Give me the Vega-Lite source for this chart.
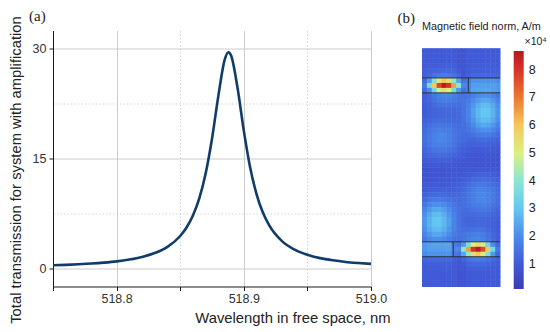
{
  "$schema": "https://vega.github.io/schema/vega-lite/v6.json",
  "padding": {"left": 8, "top": 8.5, "right": 5, "bottom": 5},
  "bounds": "flush",
  "spacing": 51,
  "datasets": {
    "spectrum": [
      {"w": 518.75, "t": 0.39}, {"w": 518.76, "t": 0.45}, {"w": 518.77, "t": 0.53}, {"w": 518.78, "t": 0.63},
      {"w": 518.79, "t": 0.76}, {"w": 518.80, "t": 0.93}, {"w": 518.81, "t": 1.18}, {"w": 518.82, "t": 1.53},
      {"w": 518.83, "t": 2.06}, {"w": 518.84, "t": 2.91}, {"w": 518.85, "t": 4.39}, {"w": 518.855, "t": 5.55},
      {"w": 518.86, "t": 7.18}, {"w": 518.865, "t": 9.52}, {"w": 518.87, "t": 12.91}, {"w": 518.875, "t": 17.65},
      {"w": 518.88, "t": 23.5}, {"w": 518.885, "t": 28.44}, {"w": 518.888, "t": 29.45}, {"w": 518.89, "t": 28.99},
      {"w": 518.895, "t": 24.67}, {"w": 518.90, "t": 18.76}, {"w": 518.905, "t": 13.74}, {"w": 518.91, "t": 10.11},
      {"w": 518.915, "t": 7.58}, {"w": 518.92, "t": 5.83}, {"w": 518.93, "t": 3.69}, {"w": 518.94, "t": 2.52},
      {"w": 518.95, "t": 1.82}, {"w": 518.96, "t": 1.37}, {"w": 518.97, "t": 1.07}, {"w": 518.98, "t": 0.85},
      {"w": 518.99, "t": 0.70}, {"w": 519.00, "t": 0.58}
    ],
    "edges": [
      {"x1": 0, "x2": 16, "y1": 6, "y2": 6},
      {"x1": 0, "x2": 16, "y1": 9, "y2": 9},
      {"x1": 9.5, "x2": 9.5, "y1": 6, "y2": 9},
      {"x1": 0, "x2": 16, "y1": 39, "y2": 39},
      {"x1": 0, "x2": 16, "y1": 42, "y2": 42},
      {"x1": 6.4, "x2": 6.4, "y1": 39, "y2": 42}
    ],
    "field": [
{"c":0,"r":0,"v":1},{"c":1,"r":0,"v":1},{"c":2,"r":0,"v":1},{"c":3,"r":0,"v":1},{"c":4,"r":0,"v":1},{"c":5,"r":0,"v":1},{"c":6,"r":0,"v":1},{"c":7,"r":0,"v":0.85},{"c":8,"r":0,"v":0.85},{"c":9,"r":0,"v":1},{"c":10,"r":0,"v":1},{"c":11,"r":0,"v":1},{"c":12,"r":0,"v":1},{"c":13,"r":0,"v":1},{"c":14,"r":0,"v":1},{"c":15,"r":0,"v":1},
{"c":0,"r":1,"v":1},{"c":1,"r":1,"v":1},{"c":2,"r":1,"v":1},{"c":3,"r":1,"v":1},{"c":4,"r":1,"v":1},{"c":5,"r":1,"v":1},{"c":6,"r":1,"v":1},{"c":7,"r":1,"v":0.85},{"c":8,"r":1,"v":0.85},{"c":9,"r":1,"v":1},{"c":10,"r":1,"v":1},{"c":11,"r":1,"v":1},{"c":12,"r":1,"v":1},{"c":13,"r":1,"v":1},{"c":14,"r":1,"v":1},{"c":15,"r":1,"v":1},
{"c":0,"r":2,"v":1},{"c":1,"r":2,"v":1},{"c":2,"r":2,"v":1},{"c":3,"r":2,"v":1},{"c":4,"r":2,"v":1},{"c":5,"r":2,"v":1},{"c":6,"r":2,"v":1},{"c":7,"r":2,"v":0.85},{"c":8,"r":2,"v":0.85},{"c":9,"r":2,"v":1},{"c":10,"r":2,"v":1},{"c":11,"r":2,"v":1},{"c":12,"r":2,"v":1},{"c":13,"r":2,"v":1},{"c":14,"r":2,"v":1},{"c":15,"r":2,"v":1},
{"c":0,"r":3,"v":1},{"c":1,"r":3,"v":1.05},{"c":2,"r":3,"v":1.05},{"c":3,"r":3,"v":1.1},{"c":4,"r":3,"v":1.1},{"c":5,"r":3,"v":1.1},{"c":6,"r":3,"v":1.05},{"c":7,"r":3,"v":0.9},{"c":8,"r":3,"v":0.85},{"c":9,"r":3,"v":1},{"c":10,"r":3,"v":1.05},{"c":11,"r":3,"v":1.05},{"c":12,"r":3,"v":1.05},{"c":13,"r":3,"v":1.05},{"c":14,"r":3,"v":1.05},{"c":15,"r":3,"v":1},
{"c":0,"r":4,"v":1.05},{"c":1,"r":4,"v":1.15},{"c":2,"r":4,"v":1.2},{"c":3,"r":4,"v":1.25},{"c":4,"r":4,"v":1.25},{"c":5,"r":4,"v":1.25},{"c":6,"r":4,"v":1.2},{"c":7,"r":4,"v":1},{"c":8,"r":4,"v":0.9},{"c":9,"r":4,"v":1},{"c":10,"r":4,"v":1.1},{"c":11,"r":4,"v":1.1},{"c":12,"r":4,"v":1.1},{"c":13,"r":4,"v":1.1},{"c":14,"r":4,"v":1.1},{"c":15,"r":4,"v":1.05},
{"c":0,"r":5,"v":1.1},{"c":1,"r":5,"v":1.25},{"c":2,"r":5,"v":1.45},{"c":3,"r":5,"v":1.6},{"c":4,"r":5,"v":1.7},{"c":5,"r":5,"v":1.6},{"c":6,"r":5,"v":1.45},{"c":7,"r":5,"v":1.2},{"c":8,"r":5,"v":0.95},{"c":9,"r":5,"v":1.1},{"c":10,"r":5,"v":1.3},{"c":11,"r":5,"v":1.3},{"c":12,"r":5,"v":1.3},{"c":13,"r":5,"v":1.3},{"c":14,"r":5,"v":1.3},{"c":15,"r":5,"v":1.2},
{"c":0,"r":6,"v":1.3},{"c":1,"r":6,"v":2.2},{"c":2,"r":6,"v":3.8},{"c":3,"r":6,"v":5.2},{"c":4,"r":6,"v":6},{"c":5,"r":6,"v":5.5},{"c":6,"r":6,"v":4},{"c":7,"r":6,"v":2.4},{"c":8,"r":6,"v":1.5},{"c":9,"r":6,"v":1.6},{"c":10,"r":6,"v":2.1},{"c":11,"r":6,"v":2.1},{"c":12,"r":6,"v":2.1},{"c":13,"r":6,"v":2.1},{"c":14,"r":6,"v":2.1},{"c":15,"r":6,"v":2},
{"c":0,"r":7,"v":1.6},{"c":1,"r":7,"v":3.5},{"c":2,"r":7,"v":6},{"c":3,"r":7,"v":7.7},{"c":4,"r":7,"v":8.6},{"c":5,"r":7,"v":8},{"c":6,"r":7,"v":6.5},{"c":7,"r":7,"v":4},{"c":8,"r":7,"v":1.9},{"c":9,"r":7,"v":1.8},{"c":10,"r":7,"v":2.3},{"c":11,"r":7,"v":2.3},{"c":12,"r":7,"v":2.3},{"c":13,"r":7,"v":2.3},{"c":14,"r":7,"v":2.3},{"c":15,"r":7,"v":2.2},
{"c":0,"r":8,"v":1.3},{"c":1,"r":8,"v":2},{"c":2,"r":8,"v":3.4},{"c":3,"r":8,"v":4.8},{"c":4,"r":8,"v":5.5},{"c":5,"r":8,"v":5},{"c":6,"r":8,"v":3.6},{"c":7,"r":8,"v":2.2},{"c":8,"r":8,"v":1.5},{"c":9,"r":8,"v":1.7},{"c":10,"r":8,"v":2.4},{"c":11,"r":8,"v":2.4},{"c":12,"r":8,"v":2.4},{"c":13,"r":8,"v":2.4},{"c":14,"r":8,"v":2.3},{"c":15,"r":8,"v":2.2},
{"c":0,"r":9,"v":1.1},{"c":1,"r":9,"v":1.3},{"c":2,"r":9,"v":1.54},{"c":3,"r":9,"v":1.76},{"c":4,"r":9,"v":1.87},{"c":5,"r":9,"v":1.84},{"c":6,"r":9,"v":1.69},{"c":7,"r":9,"v":1.53},{"c":8,"r":9,"v":1.46},{"c":9,"r":9,"v":1.52},{"c":10,"r":9,"v":1.71},{"c":11,"r":9,"v":1.92},{"c":12,"r":9,"v":2.05},{"c":13,"r":9,"v":2.03},{"c":14,"r":9,"v":1.85},{"c":15,"r":9,"v":1.58},
{"c":0,"r":10,"v":1.08},{"c":1,"r":10,"v":1.26},{"c":2,"r":10,"v":1.47},{"c":3,"r":10,"v":1.66},{"c":4,"r":10,"v":1.75},{"c":5,"r":10,"v":1.73},{"c":6,"r":10,"v":1.62},{"c":7,"r":10,"v":1.51},{"c":8,"r":10,"v":1.52},{"c":9,"r":10,"v":1.68},{"c":10,"r":10,"v":1.97},{"c":11,"r":10,"v":2.27},{"c":12,"r":10,"v":2.45},{"c":13,"r":10,"v":2.43},{"c":14,"r":10,"v":2.19},{"c":15,"r":10,"v":1.83},
{"c":0,"r":11,"v":1.03},{"c":1,"r":11,"v":1.16},{"c":2,"r":11,"v":1.3},{"c":3,"r":11,"v":1.43},{"c":4,"r":11,"v":1.49},{"c":5,"r":11,"v":1.48},{"c":6,"r":11,"v":1.42},{"c":7,"r":11,"v":1.41},{"c":8,"r":11,"v":1.52},{"c":9,"r":11,"v":1.79},{"c":10,"r":11,"v":2.18},{"c":11,"r":11,"v":2.56},{"c":12,"r":11,"v":2.8},{"c":13,"r":11,"v":2.77},{"c":14,"r":11,"v":2.48},{"c":15,"r":11,"v":2.05},
{"c":0,"r":12,"v":1.01},{"c":1,"r":12,"v":1.1},{"c":2,"r":12,"v":1.19},{"c":3,"r":12,"v":1.26},{"c":4,"r":12,"v":1.29},{"c":5,"r":12,"v":1.28},{"c":6,"r":12,"v":1.27},{"c":7,"r":12,"v":1.32},{"c":8,"r":12,"v":1.5},{"c":9,"r":12,"v":1.84},{"c":10,"r":12,"v":2.3},{"c":11,"r":12,"v":2.74},{"c":12,"r":12,"v":3},{"c":13,"r":12,"v":2.97},{"c":14,"r":12,"v":2.65},{"c":15,"r":12,"v":2.17},
{"c":0,"r":13,"v":1.05},{"c":1,"r":13,"v":1.13},{"c":2,"r":13,"v":1.2},{"c":3,"r":13,"v":1.25},{"c":4,"r":13,"v":1.26},{"c":5,"r":13,"v":1.24},{"c":6,"r":13,"v":1.24},{"c":7,"r":13,"v":1.3},{"c":8,"r":13,"v":1.49},{"c":9,"r":13,"v":1.84},{"c":10,"r":13,"v":2.3},{"c":11,"r":13,"v":2.74},{"c":12,"r":13,"v":3},{"c":13,"r":13,"v":2.97},{"c":14,"r":13,"v":2.65},{"c":15,"r":13,"v":2.17},
{"c":0,"r":14,"v":1.13},{"c":1,"r":14,"v":1.24},{"c":2,"r":14,"v":1.33},{"c":3,"r":14,"v":1.38},{"c":4,"r":14,"v":1.38},{"c":5,"r":14,"v":1.34},{"c":6,"r":14,"v":1.3},{"c":7,"r":14,"v":1.33},{"c":8,"r":14,"v":1.48},{"c":9,"r":14,"v":1.78},{"c":10,"r":14,"v":2.18},{"c":11,"r":14,"v":2.57},{"c":12,"r":14,"v":2.81},{"c":13,"r":14,"v":2.77},{"c":14,"r":14,"v":2.48},{"c":15,"r":14,"v":2.05},
{"c":0,"r":15,"v":1.24},{"c":1,"r":15,"v":1.39},{"c":2,"r":15,"v":1.51},{"c":3,"r":15,"v":1.57},{"c":4,"r":15,"v":1.56},{"c":5,"r":15,"v":1.49},{"c":6,"r":15,"v":1.41},{"c":7,"r":15,"v":1.37},{"c":8,"r":15,"v":1.45},{"c":9,"r":15,"v":1.66},{"c":10,"r":15,"v":1.97},{"c":11,"r":15,"v":2.28},{"c":12,"r":15,"v":2.46},{"c":13,"r":15,"v":2.43},{"c":14,"r":15,"v":2.19},{"c":15,"r":15,"v":1.83},
{"c":0,"r":16,"v":1.35},{"c":1,"r":16,"v":1.53},{"c":2,"r":16,"v":1.68},{"c":3,"r":16,"v":1.76},{"c":4,"r":16,"v":1.74},{"c":5,"r":16,"v":1.65},{"c":6,"r":16,"v":1.52},{"c":7,"r":16,"v":1.41},{"c":8,"r":16,"v":1.41},{"c":9,"r":16,"v":1.51},{"c":10,"r":16,"v":1.72},{"c":11,"r":16,"v":1.93},{"c":12,"r":16,"v":2.06},{"c":13,"r":16,"v":2.03},{"c":14,"r":16,"v":1.85},{"c":15,"r":16,"v":1.58},
{"c":0,"r":17,"v":1.41},{"c":1,"r":17,"v":1.62},{"c":2,"r":17,"v":1.79},{"c":3,"r":17,"v":1.88},{"c":4,"r":17,"v":1.86},{"c":5,"r":17,"v":1.74},{"c":6,"r":17,"v":1.58},{"c":7,"r":17,"v":1.43},{"c":8,"r":17,"v":1.35},{"c":9,"r":17,"v":1.37},{"c":10,"r":17,"v":1.47},{"c":11,"r":17,"v":1.6},{"c":12,"r":17,"v":1.67},{"c":13,"r":17,"v":1.65},{"c":14,"r":17,"v":1.53},{"c":15,"r":17,"v":1.35},
{"c":0,"r":18,"v":1.42},{"c":1,"r":18,"v":1.63},{"c":2,"r":18,"v":1.8},{"c":3,"r":18,"v":1.89},{"c":4,"r":18,"v":1.87},{"c":5,"r":18,"v":1.75},{"c":6,"r":18,"v":1.57},{"c":7,"r":18,"v":1.39},{"c":8,"r":18,"v":1.28},{"c":9,"r":18,"v":1.23},{"c":10,"r":18,"v":1.26},{"c":11,"r":18,"v":1.32},{"c":12,"r":18,"v":1.36},{"c":13,"r":18,"v":1.34},{"c":14,"r":18,"v":1.27},{"c":15,"r":18,"v":1.16},
{"c":0,"r":19,"v":1.36},{"c":1,"r":19,"v":1.55},{"c":2,"r":19,"v":1.71},{"c":3,"r":19,"v":1.79},{"c":4,"r":19,"v":1.77},{"c":5,"r":19,"v":1.66},{"c":6,"r":19,"v":1.49},{"c":7,"r":19,"v":1.32},{"c":8,"r":19,"v":1.19},{"c":9,"r":19,"v":1.12},{"c":10,"r":19,"v":1.11},{"c":11,"r":19,"v":1.13},{"c":12,"r":19,"v":1.14},{"c":13,"r":19,"v":1.12},{"c":14,"r":19,"v":1.08},{"c":15,"r":19,"v":1.02},
{"c":0,"r":20,"v":1.27},{"c":1,"r":20,"v":1.42},{"c":2,"r":20,"v":1.54},{"c":3,"r":20,"v":1.61},{"c":4,"r":20,"v":1.59},{"c":5,"r":20,"v":1.5},{"c":6,"r":20,"v":1.37},{"c":7,"r":20,"v":1.22},{"c":8,"r":20,"v":1.11},{"c":9,"r":20,"v":1.04},{"c":10,"r":20,"v":1.01},{"c":11,"r":20,"v":1},{"c":12,"r":20,"v":1},{"c":13,"r":20,"v":0.99},{"c":14,"r":20,"v":0.97},{"c":15,"r":20,"v":0.94},
{"c":0,"r":21,"v":1.12},{"c":1,"r":21,"v":1.23},{"c":2,"r":21,"v":1.32},{"c":3,"r":21,"v":1.37},{"c":4,"r":21,"v":1.36},{"c":5,"r":21,"v":1.29},{"c":6,"r":21,"v":1.19},{"c":7,"r":21,"v":1.09},{"c":8,"r":21,"v":1.01},{"c":9,"r":21,"v":0.95},{"c":10,"r":21,"v":0.93},{"c":11,"r":21,"v":0.92},{"c":12,"r":21,"v":0.91},{"c":13,"r":21,"v":0.9},{"c":14,"r":21,"v":0.89},{"c":15,"r":21,"v":0.87},
{"c":0,"r":22,"v":0.98},{"c":1,"r":22,"v":1.05},{"c":2,"r":22,"v":1.11},{"c":3,"r":22,"v":1.14},{"c":4,"r":22,"v":1.13},{"c":5,"r":22,"v":1.09},{"c":6,"r":22,"v":1.03},{"c":7,"r":22,"v":0.97},{"c":8,"r":22,"v":0.91},{"c":9,"r":22,"v":0.88},{"c":10,"r":22,"v":0.87},{"c":11,"r":22,"v":0.86},{"c":12,"r":22,"v":0.86},{"c":13,"r":22,"v":0.85},{"c":14,"r":22,"v":0.84},{"c":15,"r":22,"v":0.82},
{"c":0,"r":23,"v":0.86},{"c":1,"r":23,"v":0.91},{"c":2,"r":23,"v":0.94},{"c":3,"r":23,"v":0.96},{"c":4,"r":23,"v":0.96},{"c":5,"r":23,"v":0.94},{"c":6,"r":23,"v":0.91},{"c":7,"r":23,"v":0.88},{"c":8,"r":23,"v":0.86},{"c":9,"r":23,"v":0.86},{"c":10,"r":23,"v":0.86},{"c":11,"r":23,"v":0.86},{"c":12,"r":23,"v":0.86},{"c":13,"r":23,"v":0.85},{"c":14,"r":23,"v":0.83},{"c":15,"r":23,"v":0.81},
{"c":0,"r":24,"v":0.81},{"c":1,"r":24,"v":0.83},{"c":2,"r":24,"v":0.85},{"c":3,"r":24,"v":0.86},{"c":4,"r":24,"v":0.86},{"c":5,"r":24,"v":0.86},{"c":6,"r":24,"v":0.86},{"c":7,"r":24,"v":0.86},{"c":8,"r":24,"v":0.88},{"c":9,"r":24,"v":0.91},{"c":10,"r":24,"v":0.94},{"c":11,"r":24,"v":0.96},{"c":12,"r":24,"v":0.96},{"c":13,"r":24,"v":0.94},{"c":14,"r":24,"v":0.91},{"c":15,"r":24,"v":0.86},
{"c":0,"r":25,"v":0.82},{"c":1,"r":25,"v":0.84},{"c":2,"r":25,"v":0.85},{"c":3,"r":25,"v":0.86},{"c":4,"r":25,"v":0.86},{"c":5,"r":25,"v":0.87},{"c":6,"r":25,"v":0.88},{"c":7,"r":25,"v":0.91},{"c":8,"r":25,"v":0.97},{"c":9,"r":25,"v":1.03},{"c":10,"r":25,"v":1.09},{"c":11,"r":25,"v":1.13},{"c":12,"r":25,"v":1.14},{"c":13,"r":25,"v":1.11},{"c":14,"r":25,"v":1.05},{"c":15,"r":25,"v":0.98},
{"c":0,"r":26,"v":0.87},{"c":1,"r":26,"v":0.89},{"c":2,"r":26,"v":0.9},{"c":3,"r":26,"v":0.91},{"c":4,"r":26,"v":0.92},{"c":5,"r":26,"v":0.93},{"c":6,"r":26,"v":0.95},{"c":7,"r":26,"v":1.01},{"c":8,"r":26,"v":1.09},{"c":9,"r":26,"v":1.19},{"c":10,"r":26,"v":1.29},{"c":11,"r":26,"v":1.36},{"c":12,"r":26,"v":1.37},{"c":13,"r":26,"v":1.32},{"c":14,"r":26,"v":1.23},{"c":15,"r":26,"v":1.12},
{"c":0,"r":27,"v":0.94},{"c":1,"r":27,"v":0.97},{"c":2,"r":27,"v":0.99},{"c":3,"r":27,"v":1},{"c":4,"r":27,"v":1},{"c":5,"r":27,"v":1.01},{"c":6,"r":27,"v":1.04},{"c":7,"r":27,"v":1.11},{"c":8,"r":27,"v":1.22},{"c":9,"r":27,"v":1.37},{"c":10,"r":27,"v":1.5},{"c":11,"r":27,"v":1.59},{"c":12,"r":27,"v":1.61},{"c":13,"r":27,"v":1.54},{"c":14,"r":27,"v":1.42},{"c":15,"r":27,"v":1.27},
{"c":0,"r":28,"v":1.02},{"c":1,"r":28,"v":1.08},{"c":2,"r":28,"v":1.12},{"c":3,"r":28,"v":1.14},{"c":4,"r":28,"v":1.13},{"c":5,"r":28,"v":1.11},{"c":6,"r":28,"v":1.12},{"c":7,"r":28,"v":1.19},{"c":8,"r":28,"v":1.32},{"c":9,"r":28,"v":1.49},{"c":10,"r":28,"v":1.66},{"c":11,"r":28,"v":1.77},{"c":12,"r":28,"v":1.79},{"c":13,"r":28,"v":1.71},{"c":14,"r":28,"v":1.55},{"c":15,"r":28,"v":1.36},
{"c":0,"r":29,"v":1.16},{"c":1,"r":29,"v":1.27},{"c":2,"r":29,"v":1.34},{"c":3,"r":29,"v":1.36},{"c":4,"r":29,"v":1.32},{"c":5,"r":29,"v":1.26},{"c":6,"r":29,"v":1.23},{"c":7,"r":29,"v":1.28},{"c":8,"r":29,"v":1.39},{"c":9,"r":29,"v":1.57},{"c":10,"r":29,"v":1.75},{"c":11,"r":29,"v":1.87},{"c":12,"r":29,"v":1.89},{"c":13,"r":29,"v":1.8},{"c":14,"r":29,"v":1.63},{"c":15,"r":29,"v":1.42},
{"c":0,"r":30,"v":1.35},{"c":1,"r":30,"v":1.53},{"c":2,"r":30,"v":1.65},{"c":3,"r":30,"v":1.67},{"c":4,"r":30,"v":1.6},{"c":5,"r":30,"v":1.47},{"c":6,"r":30,"v":1.37},{"c":7,"r":30,"v":1.35},{"c":8,"r":30,"v":1.43},{"c":9,"r":30,"v":1.58},{"c":10,"r":30,"v":1.74},{"c":11,"r":30,"v":1.86},{"c":12,"r":30,"v":1.88},{"c":13,"r":30,"v":1.79},{"c":14,"r":30,"v":1.62},{"c":15,"r":30,"v":1.41},
{"c":0,"r":31,"v":1.58},{"c":1,"r":31,"v":1.85},{"c":2,"r":31,"v":2.03},{"c":3,"r":31,"v":2.06},{"c":4,"r":31,"v":1.93},{"c":5,"r":31,"v":1.72},{"c":6,"r":31,"v":1.51},{"c":7,"r":31,"v":1.41},{"c":8,"r":31,"v":1.41},{"c":9,"r":31,"v":1.52},{"c":10,"r":31,"v":1.65},{"c":11,"r":31,"v":1.74},{"c":12,"r":31,"v":1.76},{"c":13,"r":31,"v":1.68},{"c":14,"r":31,"v":1.53},{"c":15,"r":31,"v":1.35},
{"c":0,"r":32,"v":1.83},{"c":1,"r":32,"v":2.19},{"c":2,"r":32,"v":2.43},{"c":3,"r":32,"v":2.46},{"c":4,"r":32,"v":2.28},{"c":5,"r":32,"v":1.97},{"c":6,"r":32,"v":1.66},{"c":7,"r":32,"v":1.45},{"c":8,"r":32,"v":1.37},{"c":9,"r":32,"v":1.41},{"c":10,"r":32,"v":1.49},{"c":11,"r":32,"v":1.56},{"c":12,"r":32,"v":1.57},{"c":13,"r":32,"v":1.51},{"c":14,"r":32,"v":1.39},{"c":15,"r":32,"v":1.24},
{"c":0,"r":33,"v":2.05},{"c":1,"r":33,"v":2.48},{"c":2,"r":33,"v":2.77},{"c":3,"r":33,"v":2.81},{"c":4,"r":33,"v":2.57},{"c":5,"r":33,"v":2.18},{"c":6,"r":33,"v":1.78},{"c":7,"r":33,"v":1.48},{"c":8,"r":33,"v":1.33},{"c":9,"r":33,"v":1.3},{"c":10,"r":33,"v":1.34},{"c":11,"r":33,"v":1.38},{"c":12,"r":33,"v":1.38},{"c":13,"r":33,"v":1.33},{"c":14,"r":33,"v":1.24},{"c":15,"r":33,"v":1.13},
{"c":0,"r":34,"v":2.17},{"c":1,"r":34,"v":2.65},{"c":2,"r":34,"v":2.97},{"c":3,"r":34,"v":3},{"c":4,"r":34,"v":2.74},{"c":5,"r":34,"v":2.3},{"c":6,"r":34,"v":1.84},{"c":7,"r":34,"v":1.49},{"c":8,"r":34,"v":1.3},{"c":9,"r":34,"v":1.24},{"c":10,"r":34,"v":1.24},{"c":11,"r":34,"v":1.26},{"c":12,"r":34,"v":1.25},{"c":13,"r":34,"v":1.2},{"c":14,"r":34,"v":1.13},{"c":15,"r":34,"v":1.05},
{"c":0,"r":35,"v":2.17},{"c":1,"r":35,"v":2.65},{"c":2,"r":35,"v":2.97},{"c":3,"r":35,"v":3},{"c":4,"r":35,"v":2.74},{"c":5,"r":35,"v":2.3},{"c":6,"r":35,"v":1.84},{"c":7,"r":35,"v":1.5},{"c":8,"r":35,"v":1.32},{"c":9,"r":35,"v":1.27},{"c":10,"r":35,"v":1.28},{"c":11,"r":35,"v":1.29},{"c":12,"r":35,"v":1.26},{"c":13,"r":35,"v":1.19},{"c":14,"r":35,"v":1.1},{"c":15,"r":35,"v":1.01},
{"c":0,"r":36,"v":2.05},{"c":1,"r":36,"v":2.48},{"c":2,"r":36,"v":2.77},{"c":3,"r":36,"v":2.8},{"c":4,"r":36,"v":2.56},{"c":5,"r":36,"v":2.18},{"c":6,"r":36,"v":1.79},{"c":7,"r":36,"v":1.52},{"c":8,"r":36,"v":1.41},{"c":9,"r":36,"v":1.42},{"c":10,"r":36,"v":1.48},{"c":11,"r":36,"v":1.49},{"c":12,"r":36,"v":1.43},{"c":13,"r":36,"v":1.3},{"c":14,"r":36,"v":1.16},{"c":15,"r":36,"v":1.03},
{"c":0,"r":37,"v":1.83},{"c":1,"r":37,"v":2.19},{"c":2,"r":37,"v":2.43},{"c":3,"r":37,"v":2.45},{"c":4,"r":37,"v":2.27},{"c":5,"r":37,"v":1.97},{"c":6,"r":37,"v":1.68},{"c":7,"r":37,"v":1.52},{"c":8,"r":37,"v":1.51},{"c":9,"r":37,"v":1.62},{"c":10,"r":37,"v":1.73},{"c":11,"r":37,"v":1.75},{"c":12,"r":37,"v":1.66},{"c":13,"r":37,"v":1.47},{"c":14,"r":37,"v":1.26},{"c":15,"r":37,"v":1.08},
{"c":0,"r":38,"v":1.58},{"c":1,"r":38,"v":1.85},{"c":2,"r":38,"v":2.03},{"c":3,"r":38,"v":2.05},{"c":4,"r":38,"v":1.92},{"c":5,"r":38,"v":1.71},{"c":6,"r":38,"v":1.52},{"c":7,"r":38,"v":1.46},{"c":8,"r":38,"v":1.53},{"c":9,"r":38,"v":1.69},{"c":10,"r":38,"v":1.84},{"c":11,"r":38,"v":1.87},{"c":12,"r":38,"v":1.76},{"c":13,"r":38,"v":1.54},{"c":14,"r":38,"v":1.3},{"c":15,"r":38,"v":1.1},
{"c":0,"r":39,"v":2.2},{"c":1,"r":39,"v":2.3},{"c":2,"r":39,"v":2.4},{"c":3,"r":39,"v":2.4},{"c":4,"r":39,"v":2.4},{"c":5,"r":39,"v":2.4},{"c":6,"r":39,"v":1.7},{"c":7,"r":39,"v":1.5},{"c":8,"r":39,"v":2.2},{"c":9,"r":39,"v":3.6},{"c":10,"r":39,"v":5},{"c":11,"r":39,"v":5.5},{"c":12,"r":39,"v":4.8},{"c":13,"r":39,"v":3.4},{"c":14,"r":39,"v":2},{"c":15,"r":39,"v":1.3},
{"c":0,"r":40,"v":2.2},{"c":1,"r":40,"v":2.3},{"c":2,"r":40,"v":2.3},{"c":3,"r":40,"v":2.3},{"c":4,"r":40,"v":2.3},{"c":5,"r":40,"v":2.3},{"c":6,"r":40,"v":1.8},{"c":7,"r":40,"v":1.9},{"c":8,"r":40,"v":4},{"c":9,"r":40,"v":6.5},{"c":10,"r":40,"v":8},{"c":11,"r":40,"v":8.6},{"c":12,"r":40,"v":7.7},{"c":13,"r":40,"v":6},{"c":14,"r":40,"v":3.5},{"c":15,"r":40,"v":1.6},
{"c":0,"r":41,"v":2},{"c":1,"r":41,"v":2.1},{"c":2,"r":41,"v":2.1},{"c":3,"r":41,"v":2.1},{"c":4,"r":41,"v":2.1},{"c":5,"r":41,"v":2.1},{"c":6,"r":41,"v":1.6},{"c":7,"r":41,"v":1.5},{"c":8,"r":41,"v":2.4},{"c":9,"r":41,"v":4},{"c":10,"r":41,"v":5.5},{"c":11,"r":41,"v":6},{"c":12,"r":41,"v":5.2},{"c":13,"r":41,"v":3.8},{"c":14,"r":41,"v":2.2},{"c":15,"r":41,"v":1.3},
{"c":0,"r":42,"v":1.2},{"c":1,"r":42,"v":1.3},{"c":2,"r":42,"v":1.3},{"c":3,"r":42,"v":1.3},{"c":4,"r":42,"v":1.3},{"c":5,"r":42,"v":1.3},{"c":6,"r":42,"v":1.1},{"c":7,"r":42,"v":0.95},{"c":8,"r":42,"v":1.2},{"c":9,"r":42,"v":1.45},{"c":10,"r":42,"v":1.6},{"c":11,"r":42,"v":1.7},{"c":12,"r":42,"v":1.6},{"c":13,"r":42,"v":1.45},{"c":14,"r":42,"v":1.25},{"c":15,"r":42,"v":1.1},
{"c":0,"r":43,"v":1.05},{"c":1,"r":43,"v":1.1},{"c":2,"r":43,"v":1.1},{"c":3,"r":43,"v":1.1},{"c":4,"r":43,"v":1.1},{"c":5,"r":43,"v":1.1},{"c":6,"r":43,"v":1},{"c":7,"r":43,"v":0.9},{"c":8,"r":43,"v":1},{"c":9,"r":43,"v":1.2},{"c":10,"r":43,"v":1.25},{"c":11,"r":43,"v":1.25},{"c":12,"r":43,"v":1.25},{"c":13,"r":43,"v":1.2},{"c":14,"r":43,"v":1.15},{"c":15,"r":43,"v":1.05},
{"c":0,"r":44,"v":1},{"c":1,"r":44,"v":1.05},{"c":2,"r":44,"v":1.05},{"c":3,"r":44,"v":1.05},{"c":4,"r":44,"v":1.05},{"c":5,"r":44,"v":1.05},{"c":6,"r":44,"v":1},{"c":7,"r":44,"v":0.85},{"c":8,"r":44,"v":0.9},{"c":9,"r":44,"v":1.05},{"c":10,"r":44,"v":1.1},{"c":11,"r":44,"v":1.1},{"c":12,"r":44,"v":1.1},{"c":13,"r":44,"v":1.05},{"c":14,"r":44,"v":1.05},{"c":15,"r":44,"v":1},
{"c":0,"r":45,"v":1},{"c":1,"r":45,"v":1},{"c":2,"r":45,"v":1},{"c":3,"r":45,"v":1},{"c":4,"r":45,"v":1},{"c":5,"r":45,"v":1},{"c":6,"r":45,"v":1},{"c":7,"r":45,"v":0.85},{"c":8,"r":45,"v":0.85},{"c":9,"r":45,"v":1},{"c":10,"r":45,"v":1},{"c":11,"r":45,"v":1},{"c":12,"r":45,"v":1},{"c":13,"r":45,"v":1},{"c":14,"r":45,"v":1},{"c":15,"r":45,"v":1},
{"c":0,"r":46,"v":1},{"c":1,"r":46,"v":1},{"c":2,"r":46,"v":1},{"c":3,"r":46,"v":1},{"c":4,"r":46,"v":1},{"c":5,"r":46,"v":1},{"c":6,"r":46,"v":1},{"c":7,"r":46,"v":0.85},{"c":8,"r":46,"v":0.85},{"c":9,"r":46,"v":1},{"c":10,"r":46,"v":1},{"c":11,"r":46,"v":1},{"c":12,"r":46,"v":1},{"c":13,"r":46,"v":1},{"c":14,"r":46,"v":1},{"c":15,"r":46,"v":1},
{"c":0,"r":47,"v":1},{"c":1,"r":47,"v":1},{"c":2,"r":47,"v":1},{"c":3,"r":47,"v":1},{"c":4,"r":47,"v":1},{"c":5,"r":47,"v":1},{"c":6,"r":47,"v":1},{"c":7,"r":47,"v":0.85},{"c":8,"r":47,"v":0.85},{"c":9,"r":47,"v":1},{"c":10,"r":47,"v":1},{"c":11,"r":47,"v":1},{"c":12,"r":47,"v":1},{"c":13,"r":47,"v":1},{"c":14,"r":47,"v":1},{"c":15,"r":47,"v":1}
    ]
  },
  "hconcat": [
    {
      "width": 318,
      "height": 256,
      "title": {"text": "(a)", "anchor": "start", "frame": "group", "dx": -24, "offset": -20, "baseline": "alphabetic", "font": "Liberation Serif", "fontSize": 15, "fontWeight": "normal", "color": "#222222"},
      "data": {"name": "spectrum"},
      "mark": {"type": "line", "color": "#0f3c69", "strokeWidth": 2.6, "interpolate": "monotone"},
      "encoding": {
        "x": {
          "field": "w", "type": "quantitative",
          "scale": {"domain": [518.75, 519.0], "nice": false, "zero": false},
          "axis": {
            "values": [518.75, 518.8, 518.85, 518.9, 518.95, 519.0],
            "labelExpr": "abs(datum.value*10-round(datum.value*10))<0.01 ? format(datum.value,'.1f') : ''",
            "labelFlush": false, "labelOverlap": false, "labelPadding": 2,
            "tickSize": 4,
            "grid": true,
            "gridColor": {"condition": {"test": "abs(datum.value*10-round(datum.value*10))<0.01", "value": "#cccccc"}, "value": "#d4d4d4"},
            "gridDash": {"condition": {"test": "abs(datum.value*10-round(datum.value*10))<0.01", "value": []}, "value": [1.5, 2]},
            "title": "Wavelength in free space, nm",
            "titleAlign": "right", "titleX": 337, "titleY": 36, "titleBaseline": "alphabetic"
          }
        },
        "y": {
          "field": "t", "type": "quantitative",
          "scale": {"domain": [-2.5, 32.41], "nice": false, "zero": false},
          "axis": {
            "values": [0, 7.5, 15, 22.5, 30],
            "labelExpr": "datum.value % 15 == 0 ? format(datum.value,'d') : ''",
            "labelOverlap": false, "labelPadding": 3,
            "tickSize": 4,
            "tickOpacity": {"condition": {"test": "datum.value % 15 != 0", "value": 0}, "value": 1},
            "grid": true,
            "gridColor": {"condition": {"test": "datum.value % 15 == 0", "value": "#cccccc"}, "value": "#d4d4d4"},
            "gridDash": {"condition": {"test": "datum.value % 15 == 0", "value": []}, "value": [1.5, 2]},
            "title": "Total transmission for system with amplification",
            "titleX": -32.5, "titleY": 139, "titleAlign": "center", "titleBaseline": "alphabetic"
          }
        }
      }
    },
    {
      "title": {"text": "(b)", "anchor": "start", "frame": "bounds", "dx": -24, "offset": -17, "baseline": "alphabetic", "font": "Liberation Serif", "fontSize": 15, "fontWeight": "normal", "color": "#222222"},
      "hconcat": [
        {
          "width": 78,
          "height": 256,
          "title": {"text": "Magnetic field norm, A/m", "anchor": "start", "frame": "group", "offset": -10.5, "baseline": "alphabetic", "font": "Liberation Sans", "fontSize": 10.8, "fontWeight": "normal", "color": "#222222"},
          "layer": [
            {
              "data": {"name": "field"},
              "mark": {"type": "rect", "x2Offset": -0.5, "y2Offset": 0.5},
              "encoding": {
                "x": {"field": "c", "type": "quantitative", "bin": {"step": 1, "extent": [0, 16]}, "scale": {"domain": [0, 16], "nice": false, "zero": false}, "axis": null},
                "y": {"field": "r", "type": "quantitative", "bin": {"step": 1, "extent": [0, 48]}, "scale": {"domain": [-3.56, 48], "nice": false, "zero": false, "reverse": true}, "axis": null},
                "color": {
                  "field": "v", "type": "quantitative",
                  "scale": {"domain": [0.1, 1, 2, 3, 4, 5, 6, 7, 8, 8.67], "range": ["#3c3cb0", "#415ad7", "#4b8ceb", "#64c8f0", "#8ce6d2", "#dcf082", "#f5c85a", "#eb7832", "#d73228", "#b4191e"], "interpolate": "rgb"},
                  "legend": {
                    "type": "gradient",
                    "orient": "none", "legendX": 460.7, "legendY": 6, "direction": "vertical",
                    "gradientLength": 238, "gradientThickness": 10, "gradientStrokeWidth": 0,
                    "values": [1, 2, 3, 4, 5, 6, 7, 8],
                    "labelFont": "Liberation Sans", "labelFontSize": 12.5, "labelColor": "#222222", "labelOffset": 5,
                    "title": "×10⁴", "titleFont": "Liberation Sans", "titleFontSize": 10.5, "titleFontWeight": "normal", "titleColor": "#222222",
                    "titleAnchor": "end", "titleAlign": "center", "titlePadding": 4
                  }
                }
              }
            },
            {
              "data": {"name": "edges"},
              "mark": {"type": "rule", "color": "#2a2a2a", "strokeWidth": 0.9},
              "encoding": {
                "x": {"field": "x1", "type": "quantitative", "scale": {"domain": [0, 16], "nice": false, "zero": false}},
                "x2": {"field": "x2"},
                "y": {"field": "y1", "type": "quantitative", "scale": {"domain": [-3.56, 48], "nice": false, "zero": false, "reverse": true}},
                "y2": {"field": "y2"}
              }
            }
          ]
        }
      ]
    }
  ],
  "config": {
    "view": {"stroke": null},
    "font": "Liberation Sans",
    "axis": {
      "domainColor": "#1a1a1a", "tickColor": "#1a1a1a",
      "labelColor": "#333333", "labelFontSize": 12.5, "labelFont": "Liberation Sans",
      "titleColor": "#222222", "titleFontSize": 14.8, "titleFontWeight": "normal", "titleFont": "Liberation Sans"
    }
  }
}
